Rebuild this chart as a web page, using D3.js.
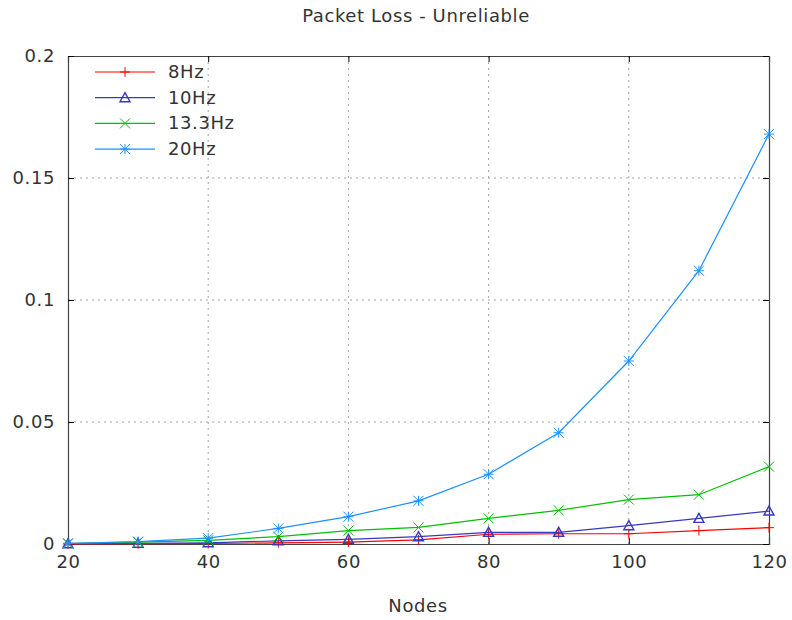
<!DOCTYPE html>
<html>
<head>
<meta charset="utf-8">
<script src="https://cdn.jsdelivr.net/npm/d3@7"></script>
<style>
  body { margin: 0; background: #fff; }
  text { font-family: "DejaVu Sans", sans-serif; fill: #333; letter-spacing: 0.6px; }
</style>
</head>
<body>
<svg id="chart" width="792" height="620"></svg>
<script>
// data
const nodes = [20, 30, 40, 50, 60, 70, 80, 90, 100, 110, 120];
const hz8 = [0, 0.0001, 0.0002, 0.0005, 0.0008, 0.0017, 0.004, 0.0042, 0.0042, 0.0055, 0.0067];
const hz10 = [0.0001, 0.0003, 0.0005, 0.0013, 0.0019, 0.003, 0.0048, 0.0048, 0.0075, 0.0105, 0.0135];
const hz13 = [0.0002, 0.0008, 0.0015, 0.003, 0.0055, 0.0068, 0.0105, 0.0138, 0.0182, 0.0202, 0.0317];
const hz20 = [0.0003, 0.001, 0.0024, 0.0064, 0.0112, 0.0177, 0.0286, 0.0456, 0.075, 0.112, 0.168];
const seriesNames = ['8Hz', '10Hz', '13.3Hz', '20Hz'];
const xTicks = [20, 40, 60, 80, 100, 120];
const yTicks = [0, 0.05, 0.1, 0.15, 0.2];

const series = [
  { name: seriesNames[0], values: hz8, color: '#ff0000', marker: 'plus' },
  { name: seriesNames[1], values: hz10, color: '#3838c0', marker: 'triangle' },
  { name: seriesNames[2], values: hz13, color: '#00c000', marker: 'cross' },
  { name: seriesNames[3], values: hz20, color: '#1e90ff', marker: 'star' }
];

const margin = { left: 68, right: 23, top: 56, bottom: 76 };
const width = 792, height = 620;
const fontSize = 18;
const svg = d3.select('#chart');

const x = d3.scaleLinear().domain([20, 120]).range([margin.left, width - margin.right]);
const y = d3.scaleLinear().domain([0, 0.2]).range([height - margin.bottom, margin.top]);

// grid
const grid = svg.append('g').attr('stroke', '#a0a0a0').attr('stroke-dasharray', '2,4').attr('stroke-width', 1);
grid.selectAll('.vx').data(xTicks.slice(1, -1)).join('line')
  .attr('x1', d => x(d)).attr('x2', d => x(d))
  .attr('y1', y(0)).attr('y2', y(0.2));
grid.selectAll('.hy').data(yTicks.slice(1, -1)).join('line')
  .attr('x1', x(20)).attr('x2', x(120))
  .attr('y1', d => y(d)).attr('y2', d => y(d));

// axes with inward ticks, mirrored
const tick = 6;
svg.append('g').attr('transform', `translate(0,${y(0)})`)
  .call(d3.axisBottom(x).tickValues(xTicks).tickSize(-tick).tickPadding(11).tickFormat(d3.format('d')));
svg.append('g').attr('transform', `translate(0,${y(0.2)})`)
  .call(d3.axisTop(x).tickValues(xTicks).tickSize(-tick).tickFormat(''));
svg.append('g').attr('transform', `translate(${x(20)},0)`)
  .call(d3.axisLeft(y).tickValues(yTicks).tickSize(-tick).tickPadding(13).tickFormat(d => d === 0 ? '0' : d3.format('')(d)));
svg.append('g').attr('transform', `translate(${x(120)},0)`)
  .call(d3.axisRight(y).tickValues(yTicks).tickSize(-tick).tickFormat(''));

svg.selectAll('.domain').attr('stroke', '#444').attr('stroke-width', 1.2);
svg.selectAll('.tick line').attr('stroke', '#000');
svg.selectAll('.tick text').attr('font-size', fontSize).attr('fill', '#333')
  .attr('font-family', '"DejaVu Sans", sans-serif');

// marker shapes
function drawMarker(g, type, color) {
  const s = 5;
  g.attr('stroke', color).attr('fill', 'none').attr('stroke-width', 1);
  if (type === 'plus') {
    g.append('path').attr('d', `M${-s},0H${s}M0,${-s}V${s}`);
  } else if (type === 'triangle') {
    g.append('path').attr('d', `M0,${-s}L${s},${s * 0.8}L${-s},${s * 0.8}Z`).attr('stroke-width', 1.4);
  } else if (type === 'cross') {
    g.append('path').attr('d', `M${-s},${-s}L${s},${s}M${-s},${s}L${s},${-s}`);
  } else {
    g.append('path').attr('d', `M${-s},0H${s}M0,${-s}V${s}M${-s},${-s}L${s},${s}M${-s},${s}L${s},${-s}`);
  }
}

const line = d3.line().x((d, i) => x(nodes[i])).y(d => y(d));

series.forEach(s => {
  svg.append('path').datum(s.values)
    .attr('fill', 'none').attr('stroke', s.color).attr('stroke-width', 1.2)
    .attr('d', line);
  s.values.forEach((v, i) => {
    drawMarker(svg.append('g').attr('transform', `translate(${x(nodes[i])},${y(v)})`), s.marker, s.color);
  });
});

// legend
const legend = svg.append('g').attr('transform', 'translate(95,72)');
series.forEach((s, i) => {
  const row = legend.append('g').attr('transform', `translate(0,${i * 25.7})`);
  row.append('line').attr('x1', 0).attr('x2', 60).attr('stroke', s.color).attr('stroke-width', 1.2);
  drawMarker(row.append('g').attr('transform', 'translate(30,0)'), s.marker, s.color);
  row.append('text').attr('x', 73).attr('y', 6).attr('font-size', fontSize).text(s.name);
});

// titles
svg.append('text').attr('x', 416).attr('y', 22).attr('text-anchor', 'middle')
  .attr('font-size', fontSize).text('Packet Loss - Unreliable');
svg.append('text').attr('x', 418).attr('y', 612).attr('text-anchor', 'middle')
  .attr('font-size', fontSize).text('Nodes');
</script>
</body>
</html>
